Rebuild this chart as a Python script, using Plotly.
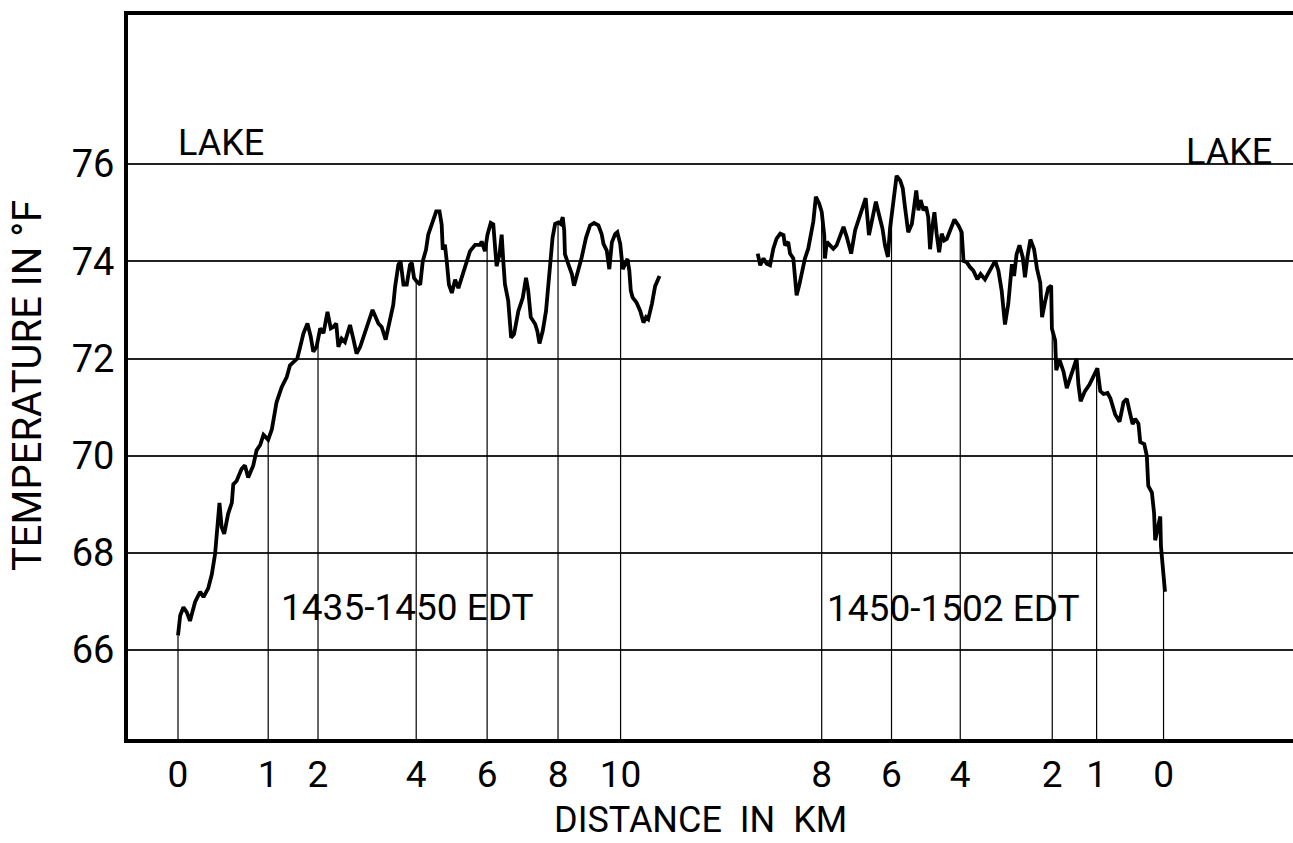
import numpy as np
import plotly.graph_objects as go

# Elapsed time along the traverse (minutes after 1435 EDT, estimated) and air temperature (deg F)
left_time = [0.00, 0.06, 0.15, 0.24, 0.33, 0.47, 0.61, 0.70, 0.83, 0.93, 1.02, 1.06, 1.14, 1.20, 1.27,
             1.38, 1.48, 1.52, 1.61, 1.75, 1.84, 1.93, 2.07, 2.16, 2.26, 2.35, 2.48, 2.58, 2.71, 2.85,
             2.99, 3.08, 3.19, 3.28, 3.36, 3.45, 3.56, 3.65, 3.72, 3.81, 3.91, 4.00, 4.11, 4.20, 4.27,
             4.35, 4.41, 4.50, 4.59, 4.73, 4.82, 4.91, 5.01, 5.19, 5.35, 5.51, 5.60, 5.71, 5.83, 5.92,
             5.97, 6.06, 6.12, 6.20, 6.29, 6.38, 6.43, 6.49, 6.56, 6.66, 6.73, 6.82, 6.88, 7.00, 7.10,
             7.19, 7.25, 7.28, 7.34, 7.39, 7.45, 7.53, 7.62, 7.71, 7.80, 7.96, 8.03, 8.17, 8.31, 8.35,
             8.44, 8.51, 8.60, 8.67, 8.74, 8.76, 8.84, 8.90, 8.95, 8.99, 9.08, 9.16, 9.24, 9.36, 9.48,
             9.57, 9.63, 9.70, 9.82, 9.88, 9.94, 10.03, 10.12, 10.18, 10.25, 10.30, 10.37, 10.46, 10.52,
             10.58, 10.62, 10.64, 10.73, 10.83, 10.89, 10.98, 11.10, 11.22, 11.33, 11.44, 11.56, 11.65,
             11.70, 11.79, 11.86, 11.93, 12.02, 12.08, 12.16, 12.23, 12.29, 12.36, 12.41, 12.45, 12.50,
             12.61, 12.71, 12.80, 12.87, 12.93, 13.03, 13.12, 13.24]
left_temp = [66.30, 66.71, 66.88, 66.78, 66.60, 66.99, 67.20, 67.09, 67.27, 67.56, 67.98, 68.32, 69.03, 68.53, 68.39,
             68.81, 69.03, 69.41, 69.48, 69.73, 69.80, 69.55, 69.80, 70.11, 70.22, 70.43, 70.33, 70.54, 71.10, 71.41,
             71.62, 71.86, 71.93, 72.00, 72.24, 72.52, 72.72, 72.45, 72.14, 72.24, 72.62, 72.52, 72.96, 72.62, 72.65,
             72.72, 72.24, 72.41, 72.34, 72.69, 72.41, 72.10, 72.24, 72.65, 73.00, 72.72, 72.65, 72.39, 72.79, 73.11,
             73.48, 73.93, 74.00, 73.52, 73.52, 73.93, 73.97, 73.66, 73.59, 73.52, 74.00, 74.24, 74.55, 74.79, 75.03,
             75.03, 74.76, 74.24, 74.34, 74.00, 73.52, 73.35, 73.62, 73.45, 73.66, 74.00, 74.21, 74.34, 74.34, 74.41,
             74.21, 74.55, 74.79, 74.76, 74.21, 73.90, 74.14, 74.55, 73.95, 73.53, 73.19, 72.43, 72.50, 72.98, 73.25,
             73.66, 73.40, 72.85, 72.71, 72.57, 72.31, 72.57, 72.98, 73.53, 74.01, 74.49, 74.77, 74.80, 74.77,
             74.91, 74.63, 74.15, 73.95, 73.74, 73.50, 73.74, 74.08, 74.49, 74.74, 74.79, 74.74, 74.56,
             74.36, 74.22, 73.84, 74.39, 74.56, 74.60, 74.36, 73.84, 73.95, 74.05, 73.81, 73.40, 73.26,
             73.15, 72.98, 72.74, 72.85, 72.81, 73.12, 73.49, 73.70]

right_time = [15.94, 16.01, 16.10, 16.19, 16.28, 16.37, 16.46, 16.56, 16.65, 16.69, 16.78, 16.83, 16.92, 16.97,
              17.01, 17.08, 17.15, 17.20, 17.24, 17.33, 17.41, 17.47, 17.54, 17.63, 17.70, 17.77, 17.79, 17.84,
              17.93, 18.02, 18.11, 18.21, 18.30, 18.39, 18.51, 18.62, 18.76, 18.85, 18.91, 19.00, 19.09, 19.19,
              19.28, 19.37, 19.44, 19.52, 19.58, 19.67, 19.76, 19.86, 19.93, 19.99, 20.08, 20.18, 20.24, 20.30,
              20.36, 20.42, 20.50, 20.57, 20.63, 20.68, 20.74, 20.80, 20.86, 20.93, 21.00, 21.07, 21.14, 21.23,
              21.35, 21.46, 21.55, 21.60, 21.69, 21.78, 21.87, 21.98, 22.07, 22.19, 22.33, 22.47, 22.56, 22.65,
              22.74, 22.83, 22.93, 22.99, 23.06, 23.14, 23.23, 23.29, 23.36, 23.44, 23.54, 23.62, 23.71, 23.76,
              23.84, 23.93, 24.01, 24.03, 24.12, 24.15, 24.24, 24.35, 24.44, 24.53, 24.64, 24.71, 24.76, 24.82,
              24.94, 25.06, 25.19, 25.28, 25.36, 25.45, 25.56, 25.64, 25.77, 25.89, 26.00, 26.09, 26.17, 26.25,
              26.32, 26.41, 26.46, 26.57, 26.64, 26.68, 26.78, 26.84, 26.87, 26.96, 27.01, 27.03, 27.10, 27.14]
right_temp = [74.16, 73.92, 74.06, 73.95, 73.92, 74.26, 74.47, 74.57, 74.54, 74.33, 74.40, 74.16, 74.06, 73.64,
              73.30, 73.50, 73.78, 73.92, 74.06, 74.26, 74.54, 74.82, 75.33, 75.19, 75.02, 74.54, 74.06, 74.40,
              74.33, 74.26, 74.33, 74.54, 74.71, 74.50, 74.16, 74.64, 74.95, 75.16, 75.30, 74.54, 74.88, 75.23,
              74.95, 74.68, 74.33, 74.09, 74.68, 75.31, 75.76, 75.66, 75.50, 75.12, 74.60, 74.77, 75.12, 75.46,
              75.05, 75.26, 75.05, 75.12, 74.91, 74.25, 74.70, 75.01, 74.57, 74.19, 74.57, 74.43, 74.46, 74.64,
              74.86, 74.74, 74.60, 74.01, 73.98, 73.88, 73.81, 73.63, 73.74, 73.63, 73.81, 74.01, 73.81, 73.39,
              72.70, 73.12, 73.94, 73.70, 74.15, 74.33, 74.08, 73.67, 74.10, 74.45, 74.25, 73.85, 73.56, 72.85,
              73.16, 73.45, 73.50, 72.62, 72.37, 71.76, 71.97, 71.73, 71.39, 71.60, 71.86, 72.00, 71.46, 71.12,
              71.33, 71.46, 71.66, 71.80, 71.33, 71.27, 71.29, 71.18, 70.85, 70.70, 71.10, 71.17, 70.90, 70.65,
              70.76, 70.66, 70.28, 70.24, 70.00, 69.38, 69.24, 68.82, 68.26, 68.61, 68.75, 68.13, 67.60, 67.20]

# Distance markers (km) and the elapsed time at which each was passed
left_km_labels = ["0", "1", "2", "4", "6", "8", "10"]
left_km_time = [0.00, 2.48, 3.85, 6.55, 8.50, 10.45, 12.17]
right_km_labels = ["8", "6", "4", "2", "1", "0"]
right_km_time = [17.70, 19.62, 21.51, 24.04, 25.26, 27.10]

temp_ticks = [66, 68, 70, 72, 74, 76]
x_range = [-1.375, 30.66]
y_range = [64.17, 79.07]

FONT = "Roboto, 'Liberation Sans', Arial, sans-serif"

fig = go.Figure()

# drop lines from the axis up to the curve at each distance marker
drop_x, drop_y = [], []
for times, temps, marks in [(left_time, left_temp, left_km_time), (right_time, right_temp, right_km_time)]:
    for t in marks:
        drop_x += [t, t, None]
        drop_y += [y_range[0], float(np.interp(t, times, temps)), None]
fig.add_trace(go.Scatter(x=drop_x, y=drop_y, mode="lines",
                         line=dict(color="black", width=1.2), hoverinfo="skip", showlegend=False))

for times, temps in [(left_time, left_temp), (right_time, right_temp)]:
    fig.add_trace(go.Scatter(x=times, y=temps, mode="lines",
                             line=dict(color="black", width=3.8), showlegend=False))

fig.update_xaxes(range=x_range, tickmode="array",
                 tickvals=left_km_time + right_km_time,
                 ticktext=left_km_labels + right_km_labels,
                 showgrid=False, zeroline=False,
                 showline=True, linecolor="black", linewidth=4, mirror=True,
                 ticks="", ticklabelstandoff=0,
                 tickfont=dict(family=FONT, size=37, color="black"))
fig.update_yaxes(range=y_range, tickmode="array", tickvals=temp_ticks,
                 showgrid=True, gridcolor="#222222", gridwidth=1.5, zeroline=False,
                 showline=True, linecolor="black", linewidth=4, mirror=False,
                 ticks="", ticklabelstandoff=2,
                 tickfont=dict(family=FONT, size=38, color="black"))

def ann(text, x, y, size, angle=0):
    fig.add_annotation(text=text, x=x, y=y, xref="paper", yref="paper",
                       showarrow=False, textangle=angle,
                       font=dict(family=FONT, size=size, color="black"),
                       xanchor="center", yanchor="middle")

ann("LAKE", 0.0798, 0.823, 36)
ann("LAKE", 0.945, 0.811, 36)
ann("1435-1450 EDT", 0.2395, 0.182, 37)
ann("1450-1502 EDT", 0.709, 0.180, 37)
ann("DISTANCE  IN  KM", 0.491, -0.112, 36)
ann("TEMPERATURE IN °F", -0.0858, 0.4876, 40, angle=-90)

fig.update_layout(width=1293, height=843,
                  margin=dict(l=128, r=0, t=15, b=104),
                  paper_bgcolor="white", plot_bgcolor="white",
                  showlegend=False)

fig.write_html("out.html")
